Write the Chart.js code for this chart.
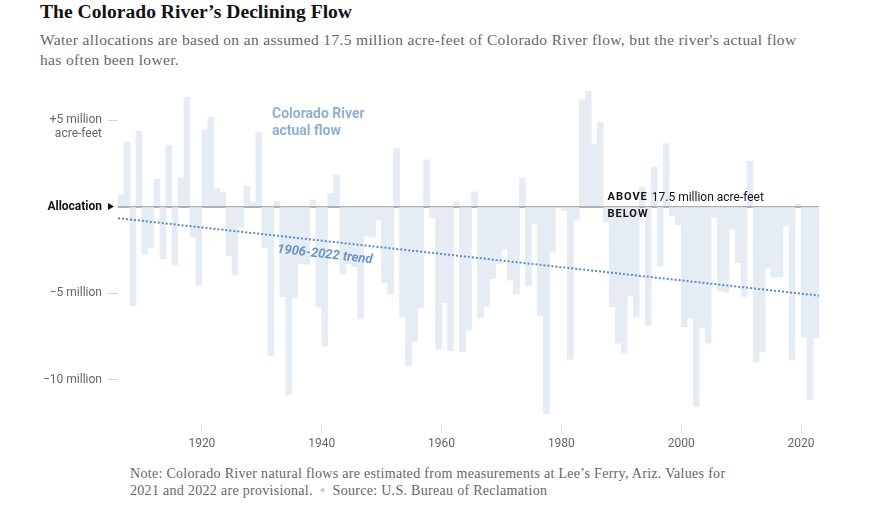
<!DOCTYPE html>
<html>
<head>
<meta charset="utf-8">
<script src="https://cdn.jsdelivr.net/npm/chart.js@4.4.0/dist/chart.umd.min.js"></script>
<style>
  body { margin: 0; background: #fff; width: 871px; height: 510px; position: relative; overflow: hidden; }
  #title { position: absolute; left: 40px; top: 0; font: bold 19.6px/24px 'Liberation Serif', serif; color: #121212; }
  #subtitle { position: absolute; left: 40px; top: 30px; font: 15.5px/20px 'Liberation Serif', serif; letter-spacing: 0.35px; color: #666; white-space: nowrap; }
  #chart-wrap { position: absolute; left: 0; top: 77px; width: 871px; height: 380px; }
  #note { position: absolute; left: 130px; top: 465px; font: 14px/17px 'Liberation Serif', serif; letter-spacing: 0.3px; color: #666; white-space: nowrap; }
  #note .dot { color: #ccc; font-size: 9px; margin: 0 7px; vertical-align: 2px; }
</style>
</head>
<body>
<div id="title">The Colorado River’s Declining Flow</div>
<div id="subtitle">Water allocations are based on an assumed 17.5 million acre-feet of Colorado River flow, but the river's actual flow<br>has often been lower.</div>
<div id="chart-wrap"><canvas id="chart-canvas" width="871" height="380"></canvas></div>
<div id="note">Note: Colorado River natural flows are estimated from measurements at Lee’s Ferry, Ariz. Values for<br>2021 and 2022 are provisional.<span class="dot">●</span>Source: U.S. Bureau of Reclamation</div>

<script>
// Water years shown as bars
const years = [
    1906, 1907, 1908, 1909, 1910, 1911, 1912, 1913, 1914, 1915,
    1916, 1917, 1918, 1919, 1920, 1921, 1922, 1923, 1924, 1925,
    1926, 1927, 1928, 1929, 1930, 1931, 1932, 1933, 1934, 1935,
    1936, 1937, 1938, 1939, 1940, 1941, 1942, 1943, 1944, 1945,
    1946, 1947, 1948, 1949, 1950, 1951, 1952, 1953, 1954, 1955,
    1956, 1957, 1958, 1959, 1960, 1961, 1962, 1963, 1964, 1965,
    1966, 1967, 1968, 1969, 1970, 1971, 1972, 1973, 1974, 1975,
    1976, 1977, 1978, 1979, 1980, 1981, 1982, 1983, 1984, 1985,
    1986, 1987, 1988, 1989, 1990, 1991, 1992, 1993, 1994, 1995,
    1996, 1997, 1998, 1999, 2000, 2001, 2002, 2003, 2004, 2005,
    2006, 2007, 2008, 2009, 2010, 2011, 2012, 2013, 2014, 2015,
    2016, 2017, 2018, 2019, 2020, 2021, 2022
];

// Flow minus the 17.5 million acre-feet allocation (million acre-feet)
const flowDiff = [
    0.70, 3.73, -5.73, 4.35, -2.77, -2.38, 1.58, -3.02, 3.56, -3.37,
    1.67, 6.33, -1.75, -4.56, 4.42, 5.19, 1.02, 0.81, -2.85, -3.96,
    -1.20, 1.19, 0.27, 4.31, -2.37, -8.62, 0.31, -5.21, -10.88, -5.25,
    -3.30, -3.35, 0.38, -5.80, -8.06, 0.75, 1.83, -3.90, -3.30, -3.48,
    -6.50, -1.69, -1.75, -0.79, -4.40, -5.06, 3.35, -6.37, -9.21, -7.81,
    -5.88, 2.71, -0.65, -8.25, -5.56, -8.33, 0.27, -8.38, -7.13, 0.85,
    -6.42, -5.79, -4.15, -3.30, -2.46, -4.25, -5.06, 1.65, -4.56, -0.98,
    -6.29, -11.98, -2.65, -0.08, -0.22, -8.83, -0.80, 6.19, 6.67, 3.58,
    4.87, -0.88, -5.80, -7.90, -8.48, -5.17, -6.40, 1.13, -6.87, 2.29,
    -3.43, 3.64, -0.53, -1.06, -6.94, -6.46, -11.57, -6.99, -7.90, -0.63,
    -4.88, -4.95, -1.31, -3.24, -5.20, 2.63, -9.00, -8.40, -3.54, -4.10,
    -4.06, -1.12, -8.88, 0.13, -7.56, -11.17, -7.60
];

// 1906-2022 trend line end points (start of 1906, end of 2022)
const trendYears = [1906, 2023];
const trendValues = [-0.67, -5.15];

// Axis ticks
const xTickYears = [1920, 1940, 1960, 1980, 2000, 2020];
const yTickValues = [5, 0, -5, -10];
const yTickLabels = ['+5 million', 'Allocation', '−5 million', '−10 million'];

Chart.defaults.font.family = 'Roboto, sans-serif';
Chart.defaults.font.size = 12;

// Text labels drawn on top of the plot
const annotationPlugin = {
    id: 'annotations',
    afterDraw(chart) {
        const { ctx, scales: { x, y } } = chart;
        const y0 = y.getPixelForValue(0);
        ctx.save();

        // second line of the +5 million label
        ctx.font = '12px Roboto';
        ctx.fillStyle = '#666';
        ctx.textAlign = 'right';
        ctx.textBaseline = 'middle';
        ctx.fillText('acre-feet', x.left - 16, y.getPixelForValue(5) + 14);

        // arrow next to "Allocation"
        ctx.fillStyle = '#121212';
        ctx.beginPath();
        ctx.moveTo(108, y0 - 3.5);
        ctx.lineTo(114, y0);
        ctx.lineTo(108, y0 + 3.5);
        ctx.closePath();
        ctx.fill();

        // series label
        ctx.textAlign = 'left';
        ctx.font = 'bold 14px Roboto';
        ctx.fillStyle = '#8fb0d3';
        const sx = x.getPixelForValue(1931.7);
        const sy = y.getPixelForValue(5.35);
        ctx.fillText('Colorado River', sx, sy);
        ctx.fillText('actual flow', sx, sy + 17);

        // above / below labels
        const ax = x.getPixelForValue(1987.7);
        ctx.fillStyle = '#121212';
        ctx.font = 'bold 11px Roboto';
        ctx.letterSpacing = '1px';
        ctx.fillText('ABOVE', ax, y0 - 9);
        const aw = ctx.measureText('ABOVE').width;
        ctx.fillText('BELOW', ax, y0 + 8);
        ctx.letterSpacing = '0px';
        ctx.font = '12px Roboto';
        ctx.fillText('17.5 million acre-feet', ax + aw + 4, y0 - 9);

        // trend label, rotated along the trend line
        const t0x = x.getPixelForValue(trendYears[0]);
        const t0y = y.getPixelForValue(trendValues[0]);
        const t1x = x.getPixelForValue(trendYears[1]);
        const t1y = y.getPixelForValue(trendValues[1]);
        const angle = Math.atan2(t1y - t0y, t1x - t0x);
        const lx = x.getPixelForValue(1932.5);
        const ly = t0y + (lx - t0x) * Math.tan(angle) + 17;
        ctx.translate(lx, ly);
        ctx.rotate(angle);
        ctx.textBaseline = 'alphabetic';
        ctx.font = 'italic bold 13px Roboto';
        ctx.fillStyle = '#6d93c3';
        ctx.fillText('1906-2022 trend', 0, 0);

        ctx.restore();
    }
};

const ctx = document.getElementById('chart-canvas');

new Chart(ctx, {
    type: 'bar',
    data: {
        datasets: [
            {
                type: 'line',
                label: 'Trend',
                data: trendYears.map((yr, i) => ({ x: yr, y: trendValues[i] })),
                borderColor: '#5b8bc6',
                borderWidth: 2,
                borderDash: [2, 2],
                pointRadius: 0,
                order: 0
            },
            {
                label: 'Actual flow',
                data: years.map((yr, i) => ({ x: yr + 0.5, y: flowDiff[i] })),
                backgroundColor: '#e6ecf3',
                borderWidth: 0,
                barPercentage: 1,
                categoryPercentage: 1,
                order: 1
            }
        ]
    },
    options: {
        responsive: false,
        animation: false,
        devicePixelRatio: 1,
        layout: { padding: { left: 0, right: 52, top: 0, bottom: 3 } },
        plugins: {
            legend: { display: false },
            tooltip: { enabled: false }
        },
        scales: {
            x: {
                type: 'linear',
                min: 1906,
                max: 2023,
                offset: false,
                afterBuildTicks: (scale) => { scale.ticks = xTickYears.map(v => ({ value: v })); },
                grid: { drawOnChartArea: false, drawTicks: true, tickLength: 10, color: '#ddd', offset: false },
                border: { display: false },
                ticks: { color: '#666', padding: 3, maxRotation: 0, autoSkip: false, callback: (v) => String(v) }
            },
            y: {
                min: -12.55,
                max: 6.73,
                z: 1,
                afterBuildTicks: (scale) => { scale.ticks = yTickValues.map(v => ({ value: v })); },
                afterFit: (scale) => { scale.width = 118; },
                grid: {
                    drawOnChartArea: true,
                    tickLength: 10,
                    color: (c) => (c.tick && c.tick.value === 0 ? '#b0b0b0' : 'transparent'),
                    tickColor: (c) => (c.tick && c.tick.value === 0 ? 'transparent' : '#d5d5d5'),
                    lineWidth: (c) => (c.tick && c.tick.value === 0 ? 2 : 1)
                },
                border: { display: false },
                ticks: {
                    padding: 6,
                    color: (c) => (c.tick && c.tick.value === 0 ? '#121212' : '#666'),
                    font: (c) => (c.tick && c.tick.value === 0 ? { weight: 'bold', size: 12 } : { size: 12 }),
                    callback: (v) => yTickLabels[yTickValues.indexOf(v)]
                }
            }
        }
    },
    plugins: [annotationPlugin]
});
</script>
</body>
</html>
